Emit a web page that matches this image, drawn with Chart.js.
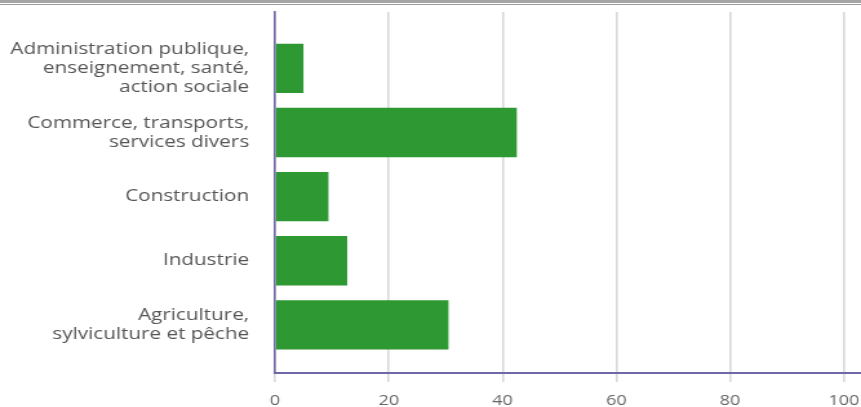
<!DOCTYPE html>
<html>
<head>
<meta charset="utf-8">
<script src="https://cdn.jsdelivr.net/npm/chart.js@4"></script>
<style>
    html, body { margin: 0; padding: 0; background: #fff; }
    .topbar { height: 3px; background: #a4a4a4; border-bottom: 1px solid #fff; }
    .topline { height: 1px; background: #9a9a9a; }
    /* the original picture is stretched sideways, so the canvas is too */
    #sectorChart { width: 861px; height: 402px; display: block; }
</style>
</head>
<body>
<div class="topbar"></div>
<div class="topline"></div>
<canvas id="sectorChart" width="667" height="402" style="width:861px;height:402px"></canvas>
<script>
const categories = [
    ['Administration publique,', 'enseignement, santé,', 'action sociale'],
    ['Commerce, transports,', 'services divers'],
    ['Construction'],
    ['Industrie'],
    ['Agriculture,', 'sylviculture et pêche']
];
const values = [5, 42.5, 9.4, 12.7, 30.5];
const xTicks = [0, 20, 40, 60, 80, 100];

document.addEventListener('DOMContentLoaded', function () {
    const ctx = document.getElementById('sectorChart').getContext('2d');

    // index axis is linear so that there is extra room above and below the bars
    const points = values.map((v, i) => ({ x: v, y: i }));

    new Chart(ctx, {
        type: 'bar',
        data: {
            datasets: [{
                data: points,
                backgroundColor: '#2e9833',
                borderWidth: 0,
                barPercentage: 0.77,
                categoryPercentage: 1,
            }],
        },
        options: {
            indexAxis: 'y',
            responsive: false,
            devicePixelRatio: 1,
            animation: false,
            layout: { padding: { top: 7, right: 0, left: 0, bottom: 0 } },
            plugins: {
                legend: { display: false },
                tooltip: { enabled: false },
            },
            scales: {
                y: {
                    type: 'linear',
                    reverse: true,
                    offset: false,
                    min: -0.88,
                    max: 4.75,
                    afterBuildTicks: scale => {
                        scale.ticks = categories.map((c, i) => ({ value: i }));
                    },
                    afterFit: scale => {
                        scale.width = 213;
                        scale.paddingTop = 0;
                        scale.paddingBottom = 0;
                    },
                    ticks: {
                        autoSkip: false,
                        padding: 20,
                        color: '#555',
                        font: { family: 'Open Sans', size: 16 },
                        callback: value => categories[value],
                    },
                    grid: { color: 'transparent', drawTicks: false },
                    border: { color: '#6e69a6', width: 1.6 },
                },
                x: {
                    type: 'linear',
                    min: 0,
                    max: 103,
                    afterBuildTicks: scale => {
                        scale.ticks = xTicks.map(v => ({ value: v }));
                    },
                    afterFit: scale => {
                        scale.height = 34;
                        scale.paddingLeft = 0;
                        scale.paddingRight = 0;
                    },
                    ticks: {
                        padding: 11,
                        color: '#666',
                        font: { family: 'Open Sans', size: 14 },
                    },
                    grid: { color: '#d8d8d8', lineWidth: 1.6, tickLength: 9 },
                    border: { color: '#6e69a6', width: 2 },
                },
            },
        },
    });
});
</script>
</body>
</html>
